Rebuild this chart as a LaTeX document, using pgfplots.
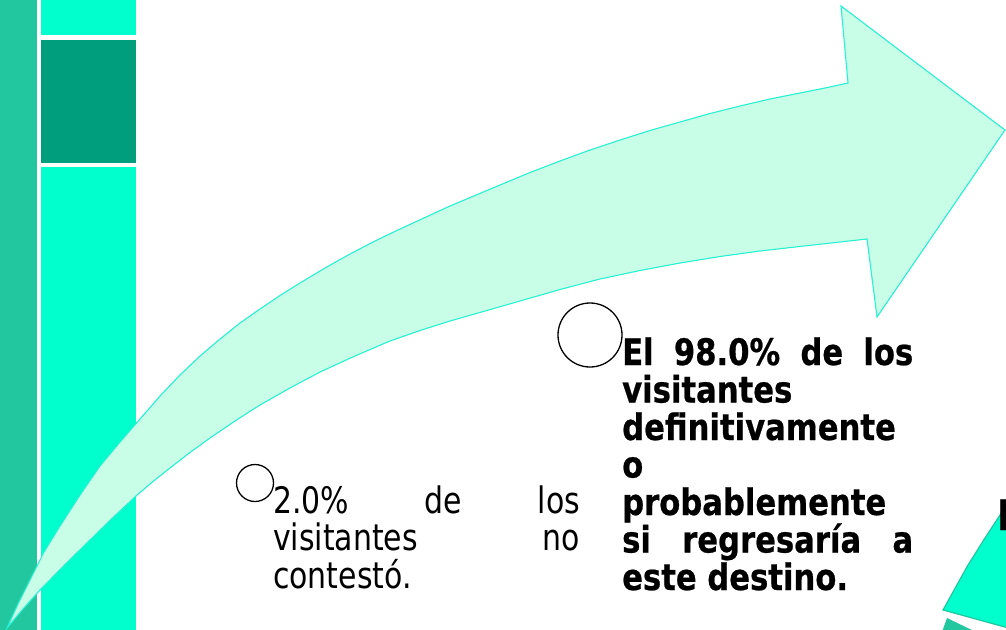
\documentclass[border=0pt]{standalone}
\usepackage{pgfplots}
\pgfplotsset{compat=1.18}
\usepackage{fontspec}
\setmainfont{DejaVu Sans}[FakeStretch=0.82, BoldFeatures={FakeBold=0.6, FakeStretch=0.84}]
\definecolor{leftbar}{RGB}{34,199,160}
\definecolor{aqua}{RGB}{0,255,204}
\definecolor{darkteal}{RGB}{0,158,124}
\definecolor{mint}{RGB}{200,253,232}
\definecolor{edge}{RGB}{40,240,210}
\newcommand\tfont{\fontsize{36.5}{37.5}\selectfont}
\begin{document}
\begin{tikzpicture}
\useasboundingbox (0,0) rectangle (1006pt,629pt);
\clip (0,0) rectangle (1006pt,629pt);
\begin{axis}[at={(0,0)}, anchor=south west, scale only axis,
  width=1006pt, height=629pt, xmin=0, xmax=1006, ymin=0, ymax=629,
  y dir=reverse, hide axis, clip=false]
% left bands
\addplot[fill=leftbar, draw=none] coordinates {(0,-2)(37,-2)(37,632)(0,632)};
\addplot[fill=aqua, draw=none] coordinates {(41,-2)(136,-2)(136,35)(41,35)};
\addplot[fill=darkteal, draw=none] coordinates {(41,39.5)(136,39.5)(136,163)(41,163)};
\addplot[fill=aqua, draw=none] coordinates {(41,167)(136,167)(136,632)(41,632)};
% curved arrow
\addplot[fill=mint, draw=edge, line width=1.1pt, line join=miter] coordinates {
(7,628)(18,604)(30,580)(44,552)(60,526)(80,495)(100,466)(120,442)(140,419)(160,396)(180,375)(200,356)(220,339)(240,323)(260,309)(280,295.5)(300,283)(325,268)(350,254)(375,241)(400,229)(425,217.5)(450,206)(475,195.5)(500,185)(530,172.5)(560,161)(590,150)(620,140)(650,130.5)(680,122)(710,113.5)(740,106)(770,99)(800,93)(825,88)(848,83)
(841,6)(1005,130)(877,317)(867,239)
(813,245)(760,251)(720,256.5)(680,263)(640,270.5)(600,279)(560,289.5)(520,301)(485,311)(450,321)(420,330.5)(390,341)(355,356)(320,372)(290,388)(260,405)(235,421)(210,438)(190,452.5)(170,468)(153,481.5)(136,496)(113,517.5)(90,540)(65,564.5)(40,590)(23,609)(7,628)} --cycle;
% pie fragment bottom right
\addplot[fill=aqua, draw=leftbar, line width=1.2pt] coordinates {(1012,495)(1000,515)(985,538)(968,565)(953,592)(943,610)(1012,629)} --cycle;
\addplot[fill=leftbar, draw=none] coordinates {(947,618)(976,632)(942,632)};
% bullets
\addplot[only marks, mark=o, mark size=18.5pt, mark options={draw=black, line width=1.3pt}] coordinates {(255,483)};
\addplot[only marks, mark=o, mark size=32pt, mark options={draw=black, line width=1.3pt}] coordinates {(590,335)};
% regular text
\node[anchor=base west, inner sep=0pt, font=\tfont] at (axis cs:273,513) {\makebox[307pt][s]{2.0\% de los}};
\node[anchor=base west, inner sep=0pt, font=\tfont] at (axis cs:273,550.5) {\makebox[307pt][s]{visitantes no}};
\node[anchor=base west, inner sep=0pt, font=\tfont] at (axis cs:273,588) {\makebox[307pt][l]{contestó.}};
% bold text
\node[anchor=base west, inner sep=0pt, font=\tfont\bfseries] at (axis cs:622,365) {\makebox[291pt][s]{El 98.0\% de los}};
\node[anchor=base west, inner sep=0pt, font=\tfont\bfseries] at (axis cs:622,402.5) {\makebox[291pt][l]{visitantes}};
\node[anchor=base west, inner sep=0pt, font=\tfont\bfseries] at (axis cs:622,440) {\makebox[291pt][l]{definitivamente}};
\node[anchor=base west, inner sep=0pt, font=\tfont\bfseries] at (axis cs:622,477.5) {\makebox[291pt][l]{o}};
\node[anchor=base west, inner sep=0pt, font=\tfont\bfseries] at (axis cs:622,515) {\makebox[291pt][l]{probablemente}};
\node[anchor=base west, inner sep=0pt, font=\tfont\bfseries] at (axis cs:622,552.5) {\makebox[291pt][s]{si regresaría a}};
\node[anchor=base west, inner sep=0pt, font=\tfont\bfseries] at (axis cs:622,590) {\makebox[291pt][l]{este destino.}};
\node[anchor=base west, inner sep=0pt, font=\fontsize{42}{42}\selectfont\bfseries] at (axis cs:997,530) {P};
\end{axis}
\end{tikzpicture}
\end{document}
